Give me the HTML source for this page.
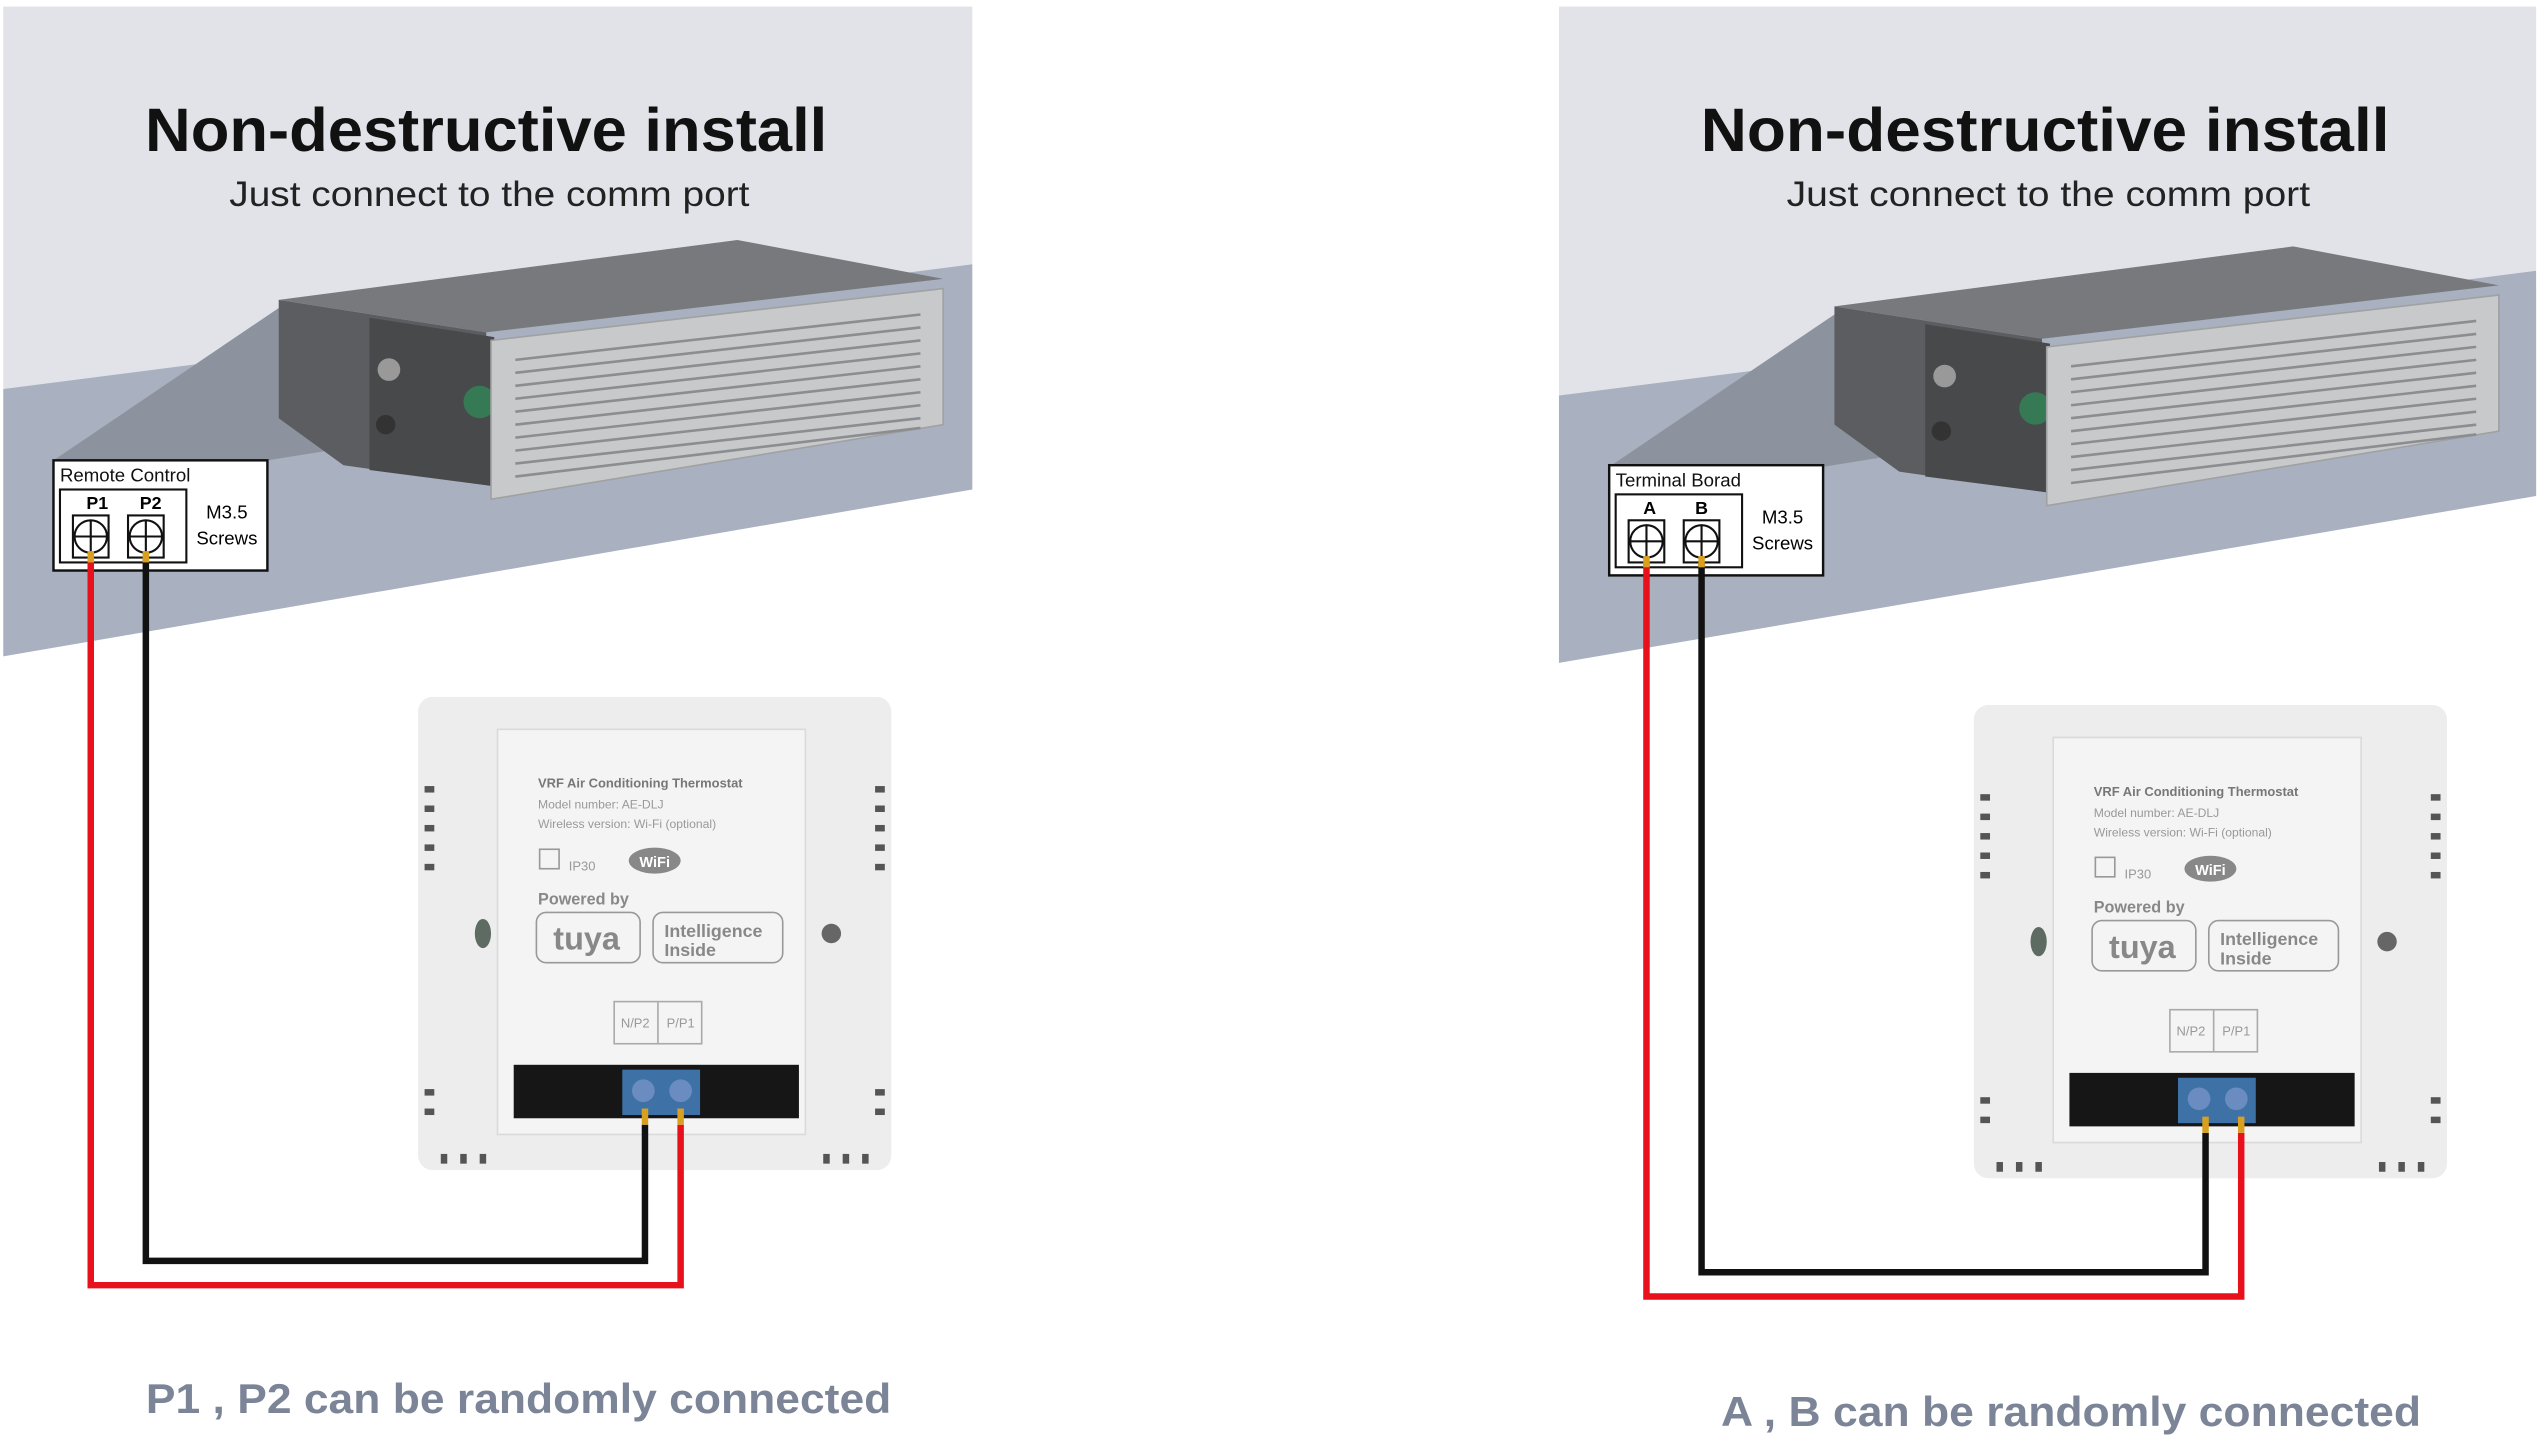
<!DOCTYPE html>
<html><head><meta charset="utf-8"><style>html,body{margin:0;padding:0;background:#fff}svg{display:block}</style></head>
<body>
<svg width="2541" height="1436" viewBox="0 0 1568 886" xmlns="http://www.w3.org/2000/svg" font-family="Liberation Sans, sans-serif">
<rect width="1568" height="886" fill="#fff"/>

<!-- LEFT PANEL -->
<g>
<polygon points="2,4 600,4 600,163 2,240" fill="#e2e3e9"/>
<polygon points="2,240 600,163 600,302 2,405" fill="#a9b0bf"/>
<polygon points="33,284 165,284 240,272 172,190" fill="#8d939e"/>
<polygon points="172,185 455,148 582,172 300,205" fill="#77797c"/>
<polygon points="172,185 300,205 305,300 212,287 172,258" fill="#5b5d60"/>
<polygon points="228,196 305,208 305,300 228,290" fill="#47494b"/>
<circle cx="296" cy="248" r="10" fill="#2f8f5a" opacity="0.7"/>
<circle cx="240" cy="228" r="7" fill="#999"/>
<circle cx="238" cy="262" r="6" fill="#333"/>
<polygon points="303,210 582,178 582,262 303,308" fill="#c8c9cb" stroke="#a0a1a3"/>
<g stroke="#8c8d90" stroke-width="1.6">
<line x1="318" y1="222" x2="568" y2="194"/><line x1="318" y1="230" x2="568" y2="202"/>
<line x1="318" y1="238" x2="568" y2="210"/><line x1="318" y1="246" x2="568" y2="218"/>
<line x1="318" y1="254" x2="568" y2="226"/><line x1="318" y1="262" x2="568" y2="234"/>
<line x1="318" y1="270" x2="568" y2="242"/><line x1="318" y1="278" x2="568" y2="250"/>
<line x1="318" y1="286" x2="568" y2="258"/><line x1="318" y1="294" x2="568" y2="264"/>
</g>
<text x="300" y="93" font-size="38" font-weight="bold" fill="#111" text-anchor="middle" textLength="421" lengthAdjust="spacingAndGlyphs">Non-destructive install</text>
<text x="302" y="127" font-size="22" fill="#222" text-anchor="middle" textLength="321" lengthAdjust="spacingAndGlyphs">Just connect to the comm port</text>

<rect x="33" y="284" width="132" height="68" fill="#fff" stroke="#111" stroke-width="1.5"/>
<text x="37" y="297" font-size="11.5" fill="#111">Remote Control</text>
<rect x="37" y="302" width="78" height="45" fill="#fff" stroke="#111" stroke-width="1.3"/>
<text x="60" y="314" font-size="11" font-weight="bold" text-anchor="middle">P1</text>
<text x="93" y="314" font-size="11" font-weight="bold" text-anchor="middle">P2</text>
<g fill="none" stroke="#111" stroke-width="1.3">
<rect x="45" y="318" width="22" height="26"/><circle cx="56" cy="331" r="10"/><line x1="46" y1="331" x2="66" y2="331"/><line x1="56" y1="321" x2="56" y2="341"/>
<rect x="79" y="318" width="22" height="26"/><circle cx="90" cy="331" r="10"/><line x1="80" y1="331" x2="100" y2="331"/><line x1="90" y1="321" x2="90" y2="341"/>
</g>
<text x="140" y="320" font-size="11.5" text-anchor="middle">M3.5</text>
<text x="140" y="336" font-size="11.5" text-anchor="middle">Screws</text>

<rect x="258" y="430" width="292" height="292" rx="9" fill="#ededed"/>
<rect x="307" y="450" width="190" height="250" fill="#f4f4f4" stroke="#dadada"/>
<g fill="#555">
<rect x="262" y="485" width="6" height="4"/><rect x="262" y="497" width="6" height="4"/><rect x="262" y="509" width="6" height="4"/><rect x="262" y="521" width="6" height="4"/><rect x="262" y="533" width="6" height="4"/>
<rect x="540" y="485" width="6" height="4"/><rect x="540" y="497" width="6" height="4"/><rect x="540" y="509" width="6" height="4"/><rect x="540" y="521" width="6" height="4"/><rect x="540" y="533" width="6" height="4"/>
<rect x="262" y="672" width="6" height="4"/><rect x="262" y="684" width="6" height="4"/><rect x="540" y="672" width="6" height="4"/><rect x="540" y="684" width="6" height="4"/>
<rect x="272" y="712" width="4" height="6"/><rect x="284" y="712" width="4" height="6"/><rect x="296" y="712" width="4" height="6"/>
<rect x="508" y="712" width="4" height="6"/><rect x="520" y="712" width="4" height="6"/><rect x="532" y="712" width="4" height="6"/>
</g>
<ellipse cx="298" cy="576" rx="5" ry="9" fill="#5d6b62"/>
<ellipse cx="513" cy="576" rx="6" ry="6" fill="#666"/>
<text x="332" y="486" font-size="8" font-weight="bold" fill="#777">VRF Air Conditioning Thermostat</text>
<text x="332" y="499" font-size="7.5" fill="#999">Model number: AE-DLJ</text>
<text x="332" y="511" font-size="7.5" fill="#999">Wireless version: Wi-Fi (optional)</text>
<rect x="333" y="524" width="12" height="12" fill="none" stroke="#999"/>
<text x="351" y="537" font-size="8" fill="#999">IP30</text>
<ellipse cx="404" cy="531" rx="16" ry="8" fill="#888"/>
<text x="404" y="535" font-size="9" font-weight="bold" fill="#fff" text-anchor="middle">WiFi</text>
<text x="332" y="558" font-size="10" font-weight="bold" fill="#888">Powered by</text>
<rect x="331" y="563" width="64" height="31" rx="6" fill="none" stroke="#999"/>
<text x="362" y="586" font-size="20" font-weight="bold" fill="#888" text-anchor="middle">tuya</text>
<rect x="403" y="563" width="80" height="31" rx="6" fill="none" stroke="#999"/>
<text x="410" y="578" font-size="11" font-weight="bold" fill="#888">Intelligence</text>
<text x="410" y="590" font-size="11" font-weight="bold" fill="#888">Inside</text>
<rect x="379" y="618" width="54" height="26" fill="none" stroke="#aaa"/><line x1="406" y1="618" x2="406" y2="644" stroke="#aaa"/>
<text x="392" y="634" font-size="8" fill="#999" text-anchor="middle">N/P2</text>
<text x="420" y="634" font-size="8" fill="#999" text-anchor="middle">P/P1</text>
<rect x="317" y="657" width="176" height="33" fill="#161616"/>
<rect x="384" y="660" width="48" height="28" fill="#3e72a6"/>
<circle cx="397" cy="673" r="7" fill="#6a8cc0"/><circle cx="420" cy="673" r="7" fill="#6a8cc0"/>

<polyline points="56,344 56,793 420,793 420,694" fill="none" stroke="#e8101a" stroke-width="4"/>
<polyline points="90,344 90,778 398,778 398,694" fill="none" stroke="#111" stroke-width="4"/>
<rect x="54" y="340" width="4" height="7" fill="#d9a020"/><rect x="88" y="340" width="4" height="7" fill="#d9a020"/>
<rect x="396" y="684" width="4" height="10" fill="#d9a020"/><rect x="418" y="684" width="4" height="10" fill="#d9a020"/>

<text x="320" y="872" font-size="26" font-weight="bold" fill="#7c8597" text-anchor="middle" textLength="460" lengthAdjust="spacingAndGlyphs">P1 , P2 can be randomly connected</text>
</g>

<!-- RIGHT PANEL -->
<g transform="translate(960,4)">
<polygon points="2,0 605,0 605,163 2,240" fill="#e2e3e9"/>
<polygon points="2,240 605,163 605,302 2,405" fill="#a9b0bf"/>
<polygon points="33,284 165,284 240,272 172,190" fill="#8d939e"/>
<polygon points="172,185 455,148 582,172 300,205" fill="#77797c"/>
<polygon points="172,185 300,205 305,300 212,287 172,258" fill="#5b5d60"/>
<polygon points="228,196 305,208 305,300 228,290" fill="#47494b"/>
<circle cx="296" cy="248" r="10" fill="#2f8f5a" opacity="0.7"/>
<circle cx="240" cy="228" r="7" fill="#999"/>
<circle cx="238" cy="262" r="6" fill="#333"/>
<polygon points="303,210 582,178 582,262 303,308" fill="#c8c9cb" stroke="#a0a1a3"/>
<g stroke="#8c8d90" stroke-width="1.6">
<line x1="318" y1="222" x2="568" y2="194"/><line x1="318" y1="230" x2="568" y2="202"/>
<line x1="318" y1="238" x2="568" y2="210"/><line x1="318" y1="246" x2="568" y2="218"/>
<line x1="318" y1="254" x2="568" y2="226"/><line x1="318" y1="262" x2="568" y2="234"/>
<line x1="318" y1="270" x2="568" y2="242"/><line x1="318" y1="278" x2="568" y2="250"/>
<line x1="318" y1="286" x2="568" y2="258"/><line x1="318" y1="294" x2="568" y2="264"/>
</g>
<text x="302" y="89" font-size="38" font-weight="bold" fill="#111" text-anchor="middle" textLength="425" lengthAdjust="spacingAndGlyphs">Non-destructive install</text>
<text x="304" y="123" font-size="22" fill="#222" text-anchor="middle" textLength="323" lengthAdjust="spacingAndGlyphs">Just connect to the comm port</text>

<rect x="33" y="283" width="132" height="68" fill="#fff" stroke="#111" stroke-width="1.5"/>
<text x="37" y="296" font-size="11.5" fill="#111">Terminal Borad</text>
<rect x="37" y="301" width="78" height="45" fill="#fff" stroke="#111" stroke-width="1.3"/>
<text x="58" y="313" font-size="11" font-weight="bold" text-anchor="middle">A</text>
<text x="90" y="313" font-size="11" font-weight="bold" text-anchor="middle">B</text>
<g fill="none" stroke="#111" stroke-width="1.3">
<rect x="45" y="317" width="22" height="26"/><circle cx="56" cy="330" r="10"/><line x1="46" y1="330" x2="66" y2="330"/><line x1="56" y1="320" x2="56" y2="340"/>
<rect x="79" y="317" width="22" height="26"/><circle cx="90" cy="330" r="10"/><line x1="80" y1="330" x2="100" y2="330"/><line x1="90" y1="320" x2="90" y2="340"/>
</g>
<text x="140" y="319" font-size="11.5" text-anchor="middle">M3.5</text>
<text x="140" y="335" font-size="11.5" text-anchor="middle">Screws</text>

<g transform="translate(0,1)">
<rect x="258" y="430" width="292" height="292" rx="9" fill="#ededed"/>
<rect x="307" y="450" width="190" height="250" fill="#f4f4f4" stroke="#dadada"/>
<g fill="#555">
<rect x="262" y="485" width="6" height="4"/><rect x="262" y="497" width="6" height="4"/><rect x="262" y="509" width="6" height="4"/><rect x="262" y="521" width="6" height="4"/><rect x="262" y="533" width="6" height="4"/>
<rect x="540" y="485" width="6" height="4"/><rect x="540" y="497" width="6" height="4"/><rect x="540" y="509" width="6" height="4"/><rect x="540" y="521" width="6" height="4"/><rect x="540" y="533" width="6" height="4"/>
<rect x="262" y="672" width="6" height="4"/><rect x="262" y="684" width="6" height="4"/><rect x="540" y="672" width="6" height="4"/><rect x="540" y="684" width="6" height="4"/>
<rect x="272" y="712" width="4" height="6"/><rect x="284" y="712" width="4" height="6"/><rect x="296" y="712" width="4" height="6"/>
<rect x="508" y="712" width="4" height="6"/><rect x="520" y="712" width="4" height="6"/><rect x="532" y="712" width="4" height="6"/>
</g>
<ellipse cx="298" cy="576" rx="5" ry="9" fill="#5d6b62"/>
<ellipse cx="513" cy="576" rx="6" ry="6" fill="#666"/>
<text x="332" y="486" font-size="8" font-weight="bold" fill="#777">VRF Air Conditioning Thermostat</text>
<text x="332" y="499" font-size="7.5" fill="#999">Model number: AE-DLJ</text>
<text x="332" y="511" font-size="7.5" fill="#999">Wireless version: Wi-Fi (optional)</text>
<rect x="333" y="524" width="12" height="12" fill="none" stroke="#999"/>
<text x="351" y="537" font-size="8" fill="#999">IP30</text>
<ellipse cx="404" cy="531" rx="16" ry="8" fill="#888"/>
<text x="404" y="535" font-size="9" font-weight="bold" fill="#fff" text-anchor="middle">WiFi</text>
<text x="332" y="558" font-size="10" font-weight="bold" fill="#888">Powered by</text>
<rect x="331" y="563" width="64" height="31" rx="6" fill="none" stroke="#999"/>
<text x="362" y="586" font-size="20" font-weight="bold" fill="#888" text-anchor="middle">tuya</text>
<rect x="403" y="563" width="80" height="31" rx="6" fill="none" stroke="#999"/>
<text x="410" y="578" font-size="11" font-weight="bold" fill="#888">Intelligence</text>
<text x="410" y="590" font-size="11" font-weight="bold" fill="#888">Inside</text>
<rect x="379" y="618" width="54" height="26" fill="none" stroke="#aaa"/><line x1="406" y1="618" x2="406" y2="644" stroke="#aaa"/>
<text x="392" y="634" font-size="8" fill="#999" text-anchor="middle">N/P2</text>
<text x="420" y="634" font-size="8" fill="#999" text-anchor="middle">P/P1</text>
<rect x="317" y="657" width="176" height="33" fill="#161616"/>
<rect x="384" y="660" width="48" height="28" fill="#3e72a6"/>
<circle cx="397" cy="673" r="7" fill="#6a8cc0"/><circle cx="420" cy="673" r="7" fill="#6a8cc0"/>
</g>

<polyline points="56,343 56,796 423,796 423,695" fill="none" stroke="#e8101a" stroke-width="4"/>
<polyline points="90,343 90,781 401,781 401,695" fill="none" stroke="#111" stroke-width="4"/>
<rect x="54" y="339" width="4" height="7" fill="#d9a020"/><rect x="88" y="339" width="4" height="7" fill="#d9a020"/>
<rect x="399" y="685" width="4" height="10" fill="#d9a020"/><rect x="421" y="685" width="4" height="10" fill="#d9a020"/>

<text x="318" y="876" font-size="26" font-weight="bold" fill="#7c8597" text-anchor="middle" textLength="432" lengthAdjust="spacingAndGlyphs">A , B can be randomly connected</text>
</g>
</svg>
</body></html>
